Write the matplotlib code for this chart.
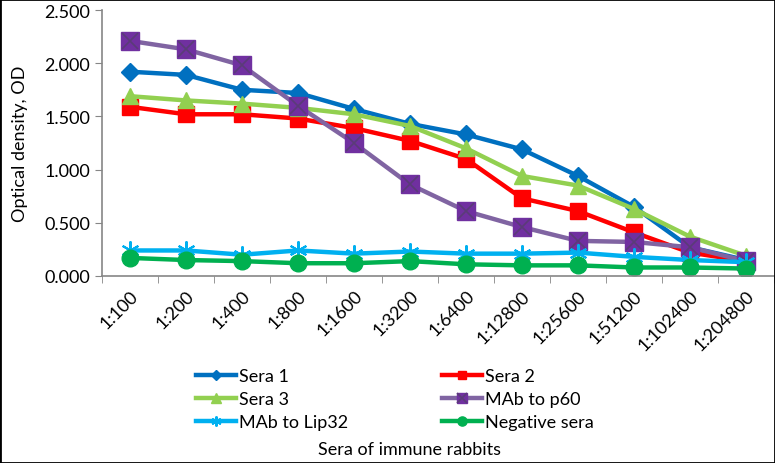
import numpy as np
import matplotlib.pyplot as plt
from matplotlib.patches import Rectangle

plt.rcParams['font.family'] = ['Lato', 'DejaVu Sans']

# 희석 배수
dilutions = ['1:100', '1:200', '1:400', '1:800', '1:1600', '1:3200', '1:6400',
             '1:12800', '1:25600', '1:51200', '1:102400', '1:204800']

sera1 = [1.92, 1.89, 1.75, 1.72, 1.57, 1.43, 1.33, 1.19, 0.94, 0.65, 0.27, 0.15]
sera2 = [1.59, 1.52, 1.52, 1.48, 1.39, 1.27, 1.10, 0.73, 0.61, 0.41, 0.22, 0.14]
sera3 = [1.69, 1.65, 1.62, 1.58, 1.52, 1.41, 1.20, 0.94, 0.85, 0.63, 0.37, 0.19]
mab_p60 = [2.21, 2.13, 1.98, 1.60, 1.25, 0.86, 0.61, 0.46, 0.33, 0.32, 0.27, 0.14]
mab_lip32 = [0.24, 0.24, 0.20, 0.24, 0.21, 0.23, 0.21, 0.21, 0.22, 0.18, 0.15, 0.13]
negative = [0.17, 0.15, 0.14, 0.12, 0.12, 0.14, 0.11, 0.10, 0.10, 0.08, 0.08, 0.07]

x = np.arange(len(dilutions))
fs = 13

fig = plt.figure(figsize=(7.75, 4.64), dpi=100)
ax = fig.add_axes([102 / 775, 1 - 277 / 464, 672 / 775, 266 / 464])

lw = 3.2
l1, = ax.plot(x, sera1, color='#0070C0', lw=lw, marker='D', ms=9)
l2, = ax.plot(x, sera2, color='#FF0000', lw=lw, marker='s', ms=11)
l3, = ax.plot(x, sera3, color='#92D050', lw=lw, marker='^', ms=12)
p60_line, = ax.plot(x, mab_p60, color='#8064A2', lw=lw, marker='s', ms=13,
                    mfc='#7030A0', mec='#7030A0')
p60_x, = ax.plot(x, mab_p60, ls='none', marker='x', ms=12, mew=1.2, color='#5A3C78')
l5, = ax.plot(x, mab_lip32, color='#00B0F0', lw=lw, marker=(6, 2, 0), ms=13, mew=1.5)
l6, = ax.plot(x, negative, color='#00B050', lw=lw, marker='o', ms=12)

# 축 설정
ax.set_xlim(-0.5, len(dilutions) - 0.5)
ax.set_ylim(0, 2.5)
yt = np.arange(0, 2.51, 0.5)
ax.set_yticks(yt)
ax.set_yticklabels(['%.3f' % v for v in yt], fontsize=fs)
ax.set_xticks(x)
ax.set_xticklabels(dilutions, rotation=45, ha='right', rotation_mode='anchor', fontsize=fs)
ax.tick_params(axis='x', which='major', length=0, pad=8)
ax.set_xticks(np.arange(-0.5, len(dilutions)), minor=True)
ax.tick_params(axis='x', which='minor', length=5, color='#868686', direction='out')
ax.tick_params(axis='y', length=5, color='#868686', direction='out')
for s in ['top', 'right']:
    ax.spines[s].set_visible(False)
for s in ['left', 'bottom']:
    ax.spines[s].set_color('#868686')
    ax.spines[s].set_linewidth(1.2)

ax.set_ylabel('Optical density, OD', fontsize=fs, labelpad=12)
fig.text(410 / 775, 1 - 450 / 464, 'Sera of immune rabbits', ha='center', va='center', fontsize=fs)

# 범례 (행 우선 순서로 맞추기)
order = [l1, l3, l5, l2, (p60_line, p60_x), l6]
names = ['Sera 1', 'Sera 3', 'MAb to Lip32', 'Sera 2', 'MAb to p60', 'Negative sera']
fig.legend(order, names, loc='center', bbox_to_anchor=(395 / 775, 1 - 400 / 464), ncol=2,
           frameon=False, fontsize=fs, markerscale=0.55, handlelength=2.2,
           handletextpad=0.2, columnspacing=5.2, labelspacing=0.38)

fig.patches.append(Rectangle((0, 0), 1, 1, transform=fig.transFigure, fill=False,
                             edgecolor='black', lw=2))

fig.savefig('out.png', dpi=100)
